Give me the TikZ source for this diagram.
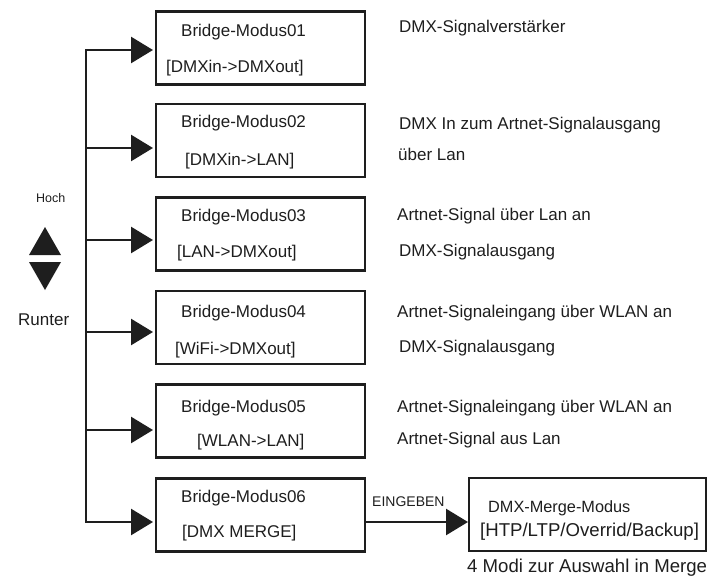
\documentclass[tikz,border=0pt]{standalone}
\usepackage{fontspec}
\setmainfont{Liberation Sans}
\usetikzlibrary{arrows.meta}
\definecolor{ink}{HTML}{1E1E1E}
\begin{document}
\begin{tikzpicture}[x=1pt,y=-1pt,
  box/.style={draw=ink, line width=2.4pt, minimum width=209pt, minimum height=73pt, inner sep=0pt, outer sep=0pt},
  mbox/.style={box, minimum width=237pt},
  lbl/.style={anchor=west, inner sep=0pt, text=ink, font=\fontsize{17}{20}\selectfont},
  wire/.style={draw=ink, line width=2.6pt, line cap=rect},
  arr/.style={draw=ink, line width=2.6pt, -{Triangle[length=22pt,width=26pt]}, shorten >=3pt},
  tri/.style={fill=ink, draw=none}]
\useasboundingbox (0,0) rectangle (710,578);

% boxes
\node[box] (b1) at (260.5,48) {};
\node[box] (b2) at (260.5,140.5) {};
\node[box] (b3) at (260.5,234) {};
\node[box] (b4) at (260.5,327.5) {};
\node[box] (b5) at (260.5,421) {};
\node[box] (b6) at (260.5,515) {};
\node[mbox] (m) at (587.5,514.5) {};

% trunk coordinates
\coordinate (t1) at (86,50);
\coordinate (t2) at (86,148);
\coordinate (t3) at (86,240);
\coordinate (t4) at (86,332);
\coordinate (t5) at (86,430);
\coordinate (t6) at (86,522);

\draw[wire] (t1) -- (t6);
\draw[arr] (t1) -- (b1.west |- t1);
\draw[arr] (t2) -- (b2.west |- t2);
\draw[arr] (t3) -- (b3.west |- t3);
\draw[arr] (t4) -- (b4.west |- t4);
\draw[arr] (t5) -- (b5.west |- t5);
\draw[arr] (t6) -- (b6.west |- t6);
\coordinate (e1) at (b6.east |- t6);
\coordinate (e2) at (m.west |- t6);
\draw[arr, shorten >=1pt] (e1) -- (e2);

% box texts
\node[lbl] (l1a) at (181,32) {Bridge-Modus01};
\node[lbl] (l1b) at (166,68) {[DMXin->DMXout]};
\node[lbl] (l2a) at (181,123) {Bridge-Modus02};
\node[lbl] (l2b) at (185,161) {[DMXin->LAN]};
\node[lbl] (l3a) at (181,217) {Bridge-Modus03};
\node[lbl] (l3b) at (177,253) {[LAN->DMXout]};
\node[lbl] (l4a) at (181,313) {Bridge-Modus04};
\node[lbl] (l4b) at (175,350) {[WiFi->DMXout]};
\node[lbl] (l5a) at (181,408) {Bridge-Modus05};
\node[lbl] (l5b) at (197,442) {[WLAN->LAN]};
\node[lbl] (l6a) at (181,498) {Bridge-Modus06};
\node[lbl] (l6b) at (182,533) {[DMX MERGE]};

\node[lbl, font=\fontsize{16.3}{19}\selectfont] (ma) at (488,508) {DMX-Merge-Modus};
\node[lbl, font=\fontsize{18.6}{21}\selectfont] (mb) at (480,532) {[HTP/LTP/Overrid/Backup]};
\node[lbl, font=\fontsize{18.6}{21}\selectfont] (mc) at (467,568) {4 Modi zur Auswahl in Merge};
\node[lbl, font=\fontsize{14}{16}\selectfont] (ein) at (372,502) {EINGEBEN};

% right descriptions
\node[lbl] (d1) at (399,28) {DMX-Signalverstärker};
\node[lbl] (d2a) at (399,125) {DMX In zum Artnet-Signalausgang};
\node[lbl] (d2b) at (398,154) {über Lan};
\node[lbl] (d3a) at (397,216) {Artnet-Signal über Lan an};
\node[lbl] (d3b) at (399,252) {DMX-Signalausgang};
\node[lbl] (d4a) at (397,313) {Artnet-Signaleingang über WLAN an};
\node[lbl] (d4b) at (399,348) {DMX-Signalausgang};
\node[lbl] (d5a) at (397,408) {Artnet-Signaleingang über WLAN an};
\node[lbl] (d5b) at (397,440) {Artnet-Signal aus Lan};

% up/down
\node[lbl, font=\fontsize{12.5}{15}\selectfont] (hoch) at (36,198) {Hoch};
\fill[tri] (45,227) -- (61,255) -- (29,255) -- cycle;
\fill[tri] (29,262) -- (61,262) -- (45,290) -- cycle;
\node[lbl] (runter) at (18,320) {Runter};
\end{tikzpicture}
\end{document}
